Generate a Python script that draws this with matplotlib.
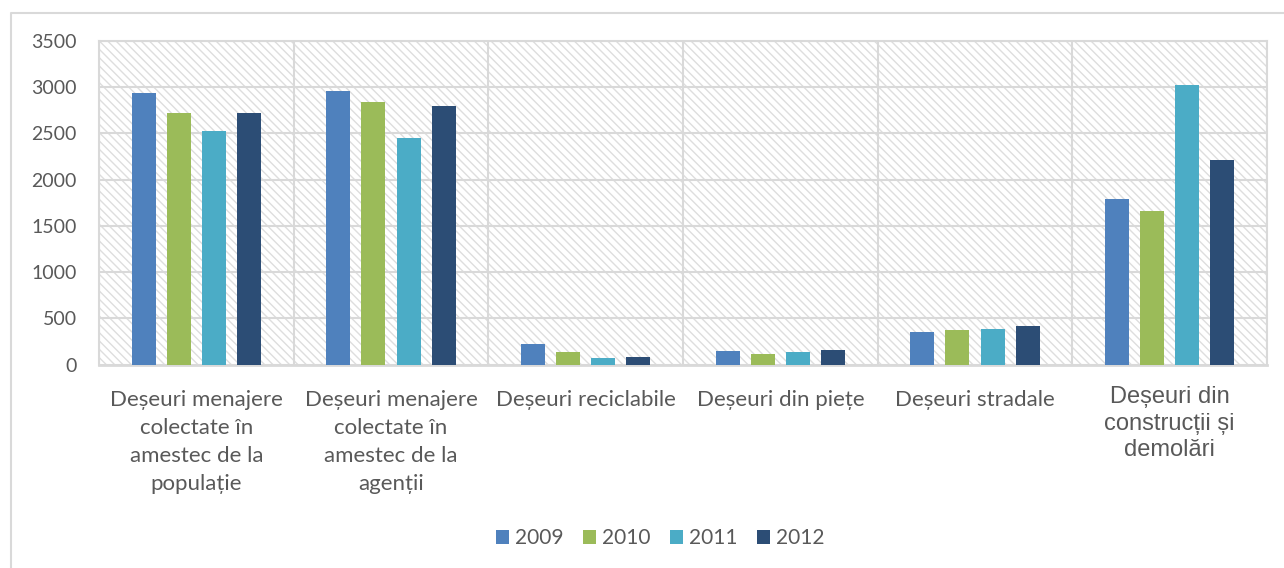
import matplotlib.pyplot as plt
import numpy as np
from matplotlib.lines import Line2D
from matplotlib.patches import Rectangle

plt.rcParams["hatch.linewidth"] = 1.0

categories = [
    "Deșeuri menajere\ncolectate în\namestec de la\npopulație",
    "Deșeuri menajere\ncolectate în\namestec de la\nagenții",
    "Deșeuri reciclabile",
    "Deșeuri din piețe",
    "Deșeuri stradale",
    "Deșeuri din\nconstrucții și\ndemolări",
]
years = ["2009", "2010", "2011", "2012"]
v2009 = [2935, 2956, 227, 151, 356, 1793]
v2010 = [2719, 2844, 137, 115, 378, 1663]
v2011 = [2524, 2452, 65, 137, 385, 3024]
v2012 = [2725, 2797, 76, 154, 418, 2214]
series = [v2009, v2010, v2011, v2012]
colors = ["#4F81BD", "#9BBB59", "#4BACC6", "#2C4D75"]

TEXT = "#595959"
GRID = "#d9d9d9"

fig = plt.figure(figsize=(12.84, 5.68), dpi=100)
ax = fig.add_axes([99 / 1284, 1 - 364.5 / 568, 1168 / 1284, 323.5 / 568])

# outer chart border (left and top edges visible)
fig.add_artist(Line2D([11 / 1284, 11 / 1284, 1.0], [0, 1 - 12.5 / 568, 1 - 12.5 / 568],
                      transform=fig.transFigure, color=GRID, lw=1.5))

# hatched plot-area background
ax.add_patch(Rectangle((0, 0), 1, 1, transform=ax.transAxes, fill=False,
                       hatch="\\\\\\\\", ec="#dedede", lw=0, zorder=0))

x = np.arange(len(categories))
step = 35 / 194
width = 24 / 194
for i, (vals, c, yr) in enumerate(zip(series, colors, years)):
    ax.bar(x + (i - 1.5) * step, vals, width, color=c, label=yr, zorder=3)

ax.set_xlim(-0.5, len(categories) - 0.5)
ax.set_ylim(0, 3500)
ax.set_yticks(np.arange(0, 3501, 500))
ax.set_xticks(x)
ax.set_xticks(np.arange(-0.5, len(categories)), minor=True)
ax.set_xticklabels([])
ax.tick_params(axis="both", which="both", length=0)
ax.tick_params(axis="y", labelsize=14, labelcolor=TEXT, pad=16)
for lab in ax.get_yticklabels():
    lab.set_fontfamily("Lato")

ax.grid(axis="y", color=GRID, lw=1.5, zorder=1)
ax.grid(axis="x", which="minor", color=GRID, lw=1.5, zorder=1)
for s in ["top", "right", "left"]:
    ax.spines[s].set_color(GRID)
    ax.spines[s].set_linewidth(1.5)
ax.spines["bottom"].set_color(GRID)
ax.spines["bottom"].set_linewidth(2)

for i, cat in enumerate(categories):
    if i == len(categories) - 1:
        ax.text(i, -22 / 323.5 * 3500, cat, ha="center", va="top",
                fontsize=17, color=TEXT, family="Liberation Sans",
                linespacing=1.25, clip_on=False)
    else:
        ax.text(i, -25 / 323.5 * 3500, cat, ha="center", va="top",
                fontsize=16, color=TEXT, family="Lato",
                linespacing=1.52, clip_on=False)

leg = fig.legend(loc="center", bbox_to_anchor=(660 / 1284, 1 - 538 / 568),
                 ncol=4, frameon=False, handlelength=0.65, handleheight=0.65,
                 handletextpad=0.25, columnspacing=0.95,
                 prop={"family": "Lato", "size": 15})
for t in leg.get_texts():
    t.set_color(TEXT)

fig.savefig("out.png", dpi=100)
